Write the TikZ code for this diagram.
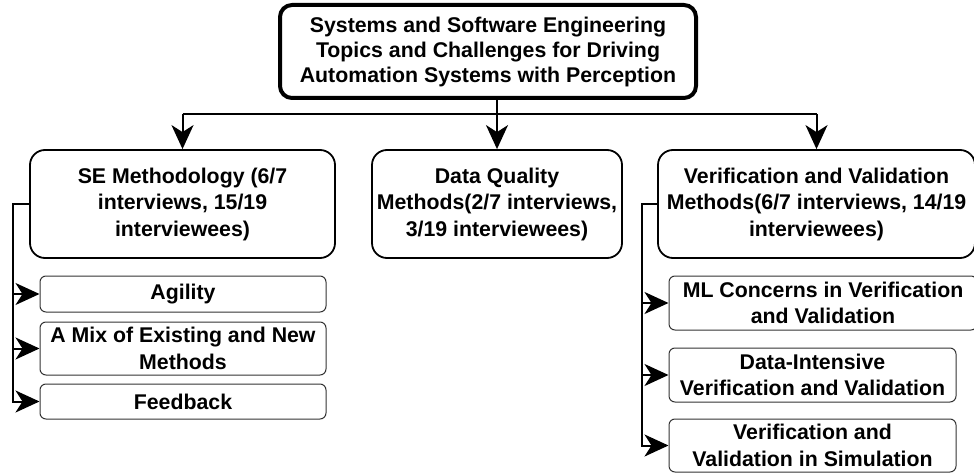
\documentclass[tikz,border=0pt]{standalone}
\usepackage{fontspec}
\setmainfont{Liberation Sans}
\usetikzlibrary{arrows.meta}

\tikzset{
  rootbox/.style={draw, line width=4pt, rounded corners=12pt, inner sep=0pt,
    minimum width=416pt, minimum height=93pt, align=center,
    font=\bfseries\fontsize{21.3}{25}\selectfont},
  topicbox/.style={draw, line width=1.8pt, rounded corners=15pt, inner sep=0pt,
    minimum height=108pt, align=center,
    font=\bfseries\fontsize{21.3}{26.5}\selectfont},
  itembox/.style={draw=black!80, line width=1pt, rounded corners=6pt, inner sep=0pt,
    align=center, font=\bfseries\fontsize{21.3}{26.5}\selectfont},
  wire/.style={line width=2pt},
  link/.style={wire, -{Stealth[length=24pt,width=22pt,inset=7pt]}},
}

\begin{document}
\begin{tikzpicture}[x=1pt, y=-1pt]
  \useasboundingbox (0,0) rectangle (974,473);

  \node [rootbox] (root) at (488,51.5)
    {Systems and Software Engineering\\Topics and Challenges for Driving\\Automation Systems with Perception};

  \node [topicbox, minimum width=305pt] (se) at (182.5,204)
    {SE Methodology (6/7\\interviews, 15/19\\interviewees)};
  \node [topicbox, minimum width=250pt] (dq) at (497,204)
    {Data Quality\\Methods(2/7 interviews,\\3/19 interviewees)};
  \node [topicbox, minimum width=317pt] (vv) at (816.5,204)
    {Verification and Validation\\Methods(6/7 interviews, 14/19\\interviewees)};

  % SE Methodology items
  \node [itembox, minimum width=286pt, minimum height=36pt] (agility) at (183,294) {Agility};
  \node [itembox, minimum width=286pt, minimum height=53pt] (mix) at (183,348.5)
    {A Mix of Existing and New\\Methods};
  \node [itembox, minimum width=286pt, minimum height=35pt] (feedback) at (183,401.5) {Feedback};

  % V&V items
  \node [itembox, minimum width=308pt, minimum height=54pt] (mlvv) at (823,303)
    {ML Concerns in Verification\\and Validation};
  \node [itembox, minimum width=287pt, minimum height=54pt] (datavv) at (812.5,375)
    {Data-Intensive\\Verification and Validation};
  \node [itembox, minimum width=287pt, minimum height=53pt] (simvv) at (812.5,445.5)
    {Verification and\\Validation in Simulation};

  % root to topics
  \coordinate (split) at (497,114);
  \draw[wire] (root.south -| split) -- (split);
  \draw[wire] (split -| se.north) -- (split -| vv.north);
  \foreach \t in {se,dq,vv}
    \draw[link] (split -| \t.north) -- (\t.north);

  % topics to items
  \coordinate (setrunk) at (13,0);
  \coordinate (vvtrunk) at (642,0);
  \foreach \i in {agility,mix,feedback}
    \draw[link] (se.west) -- (se.west -| setrunk) |- (\i.west);
  \foreach \i in {mlvv,datavv,simvv}
    \draw[link] (vv.west) -- (vv.west -| vvtrunk) |- (\i.west);
\end{tikzpicture}
\end{document}
